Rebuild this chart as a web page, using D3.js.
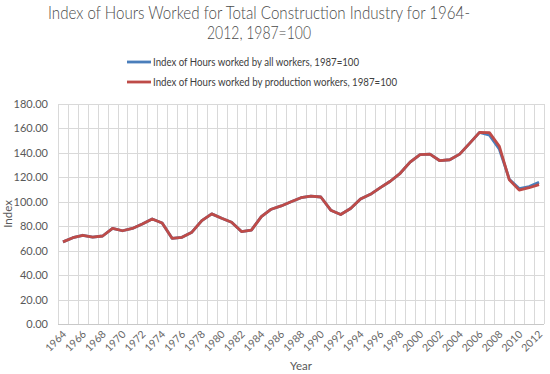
<!DOCTYPE html>
<html>
<head>
<meta charset="utf-8">
<script src="https://cdn.jsdelivr.net/npm/d3@7"></script>
<style>
	body { margin: 0; background: #fff; }
	text { font-family: Lato, "Open Sans", sans-serif; }
</style>
</head>
<body>
<div id="chart"></div>
<script>
// data
let years = d3.range(1964, 2013);
let allWorkers = [67.2, 70.6, 72.6, 71.1, 72.0, 78.3, 76.3, 78.2, 81.8, 85.9,
	82.6, 70.1, 70.9, 75.1, 84.6, 90.1, 86.5, 83.2, 75.6, 76.8,
	87.8, 93.9, 96.6, 100.0, 103.3, 104.7, 103.9, 93.1, 89.6, 94.5,
	102.2, 106.1, 111.6, 116.8, 123.3, 132.4, 138.6, 139.0, 133.6, 134.4,
	139.0, 147.8, 156.8, 154.5, 143.0, 118.5, 110.8, 112.5, 116.0];
let productionWorkers = [67.2, 70.6, 72.6, 71.1, 72.0, 78.3, 76.3, 78.2, 81.8, 85.9,
	82.6, 70.1, 70.9, 75.1, 84.6, 90.1, 86.5, 83.2, 75.6, 76.8,
	87.8, 93.9, 96.6, 100.0, 103.3, 104.7, 103.9, 93.1, 89.6, 94.5,
	102.2, 106.1, 111.6, 116.8, 123.3, 132.4, 138.6, 139.0, 133.6, 134.4,
	139.0, 147.8, 156.8, 156.6, 145.3, 118.0, 109.6, 111.5, 114.0];
let seriesNames = ["Index of Hours worked by all workers, 1987=100",
	"Index of Hours worked by production workers, 1987=100"];
let yTicks = [0, 20, 40, 60, 80, 100, 120, 140, 160, 180];
let xTickYears = years.filter(d => d % 2 === 0);
let titleLines = ["Index of Hours Worked for Total Construction Industry for 1964-",
	"2012, 1987=100"];

let width = 550, height = 374;
let margin = {top: 104, left: 58, right: 6, bottom: 50};
let colors = ["#4a7ebb", "#be4b48"];

let svg = d3.select("#chart").append("svg")
	.attr("width", width)
	.attr("height", height);

// squeeze a text to a given width (the reference font is narrower than ours)
function fitWidth(sel, target) {
	sel.each(function() {
		let w = this.getComputedTextLength();
		if (w > target) d3.select(this).attr("textLength", target).attr("lengthAdjust", "spacingAndGlyphs");
	});
}

let x = d3.scaleBand()
	.domain(years)
	.range([margin.left, width - margin.right]);
let y = d3.scaleLinear()
	.domain([0, 180])
	.range([height - margin.bottom, margin.top]);
let cx = d => x(d) + x.bandwidth() / 2;

// gridlines
let grid = svg.append("g").attr("stroke", "#d9d9d9").attr("stroke-width", 1);
grid.selectAll(".hg").data(yTicks.slice(1)).enter().append("line")
	.attr("x1", x.range()[0]).attr("x2", x.range()[1])
	.attr("y1", d => Math.round(y(d)) + 0.5).attr("y2", d => Math.round(y(d)) + 0.5);
let vEdges = years.map(d => x(d)).concat([x.range()[1]]);
grid.selectAll(".vg").data(vEdges).enter().append("line")
	.attr("x1", d => Math.round(d) + 0.5).attr("x2", d => Math.round(d) + 0.5)
	.attr("y1", y(180)).attr("y2", y(0));
// x axis line
svg.append("line")
	.attr("x1", x.range()[0]).attr("x2", x.range()[1])
	.attr("y1", Math.round(y(0)) + 0.5).attr("y2", Math.round(y(0)) + 0.5)
	.attr("stroke", "#c8c8c8");

// y axis
let yAxis = d3.axisLeft(y).tickValues(yTicks).tickFormat(d3.format(".2f")).tickSize(0).tickPadding(10);
let yg = svg.append("g")
	.attr("transform", "translate(" + margin.left + ",0)")
	.call(yAxis);
yg.select(".domain").remove();
yg.selectAll("text").attr("fill", "#595959").style("font-size", "11px");

// x axis
let xAxis = d3.axisBottom(x).tickValues(xTickYears).tickSize(0);
let xg = svg.append("g")
	.attr("transform", "translate(0," + y(0) + ")")
	.call(xAxis);
xg.select(".domain").remove();
xg.selectAll("text")
	.attr("fill", "#666")
	.style("font-size", "10.5px")
	.attr("text-anchor", "end")
	.attr("dy", null)
	.attr("y", 0)
	.attr("transform", "translate(4,11) rotate(-45)");

// lines
let line = d3.line()
	.x((d, i) => cx(years[i]))
	.y(d => y(d));
svg.selectAll(".series").data([allWorkers, productionWorkers]).enter().append("path")
	.attr("class", "series")
	.attr("fill", "none")
	.attr("stroke", (d, i) => colors[i])
	.attr("stroke-width", 2.8)
	.attr("stroke-linejoin", "round")
	.attr("d", line);

// title
let title = svg.append("g").selectAll("text").data(titleLines).enter().append("text")
	.attr("x", 259)
	.attr("y", (d, i) => 19 + i * 20)
	.attr("text-anchor", "middle")
	.attr("fill", "#4a4a4a")
	.style("font-size", "17.5px")
	.style("font-weight", 300)
	.text(d => d);
fitWidth(title.filter((d, i) => i === 0), 422);
fitWidth(title.filter((d, i) => i === 1), 104);

// legend
let legend = svg.append("g").selectAll("g").data(seriesNames).enter().append("g")
	.attr("transform", (d, i) => "translate(127," + (62 + i * 20) + ")");
legend.append("line")
	.attr("x1", 0).attr("x2", 24)
	.attr("stroke", (d, i) => colors[i])
	.attr("stroke-width", 2.8);
let legendText = legend.append("text")
	.attr("x", 26)
	.attr("dy", "0.35em")
	.attr("fill", "#404040")
	.style("font-size", "11px")
	.text(d => d);
fitWidth(legendText.filter((d, i) => i === 0), 206);
fitWidth(legendText.filter((d, i) => i === 1), 244);

// axis titles
svg.append("text")
	.attr("transform", "translate(12," + y(90) + ") rotate(-90)")
	.attr("text-anchor", "middle")
	.attr("fill", "#595959")
	.style("font-size", "11.5px")
	.text("Index");
svg.append("text")
	.attr("x", 301)
	.attr("y", 370)
	.attr("text-anchor", "middle")
	.attr("fill", "#595959")
	.style("font-size", "11.5px")
	.text("Year");
</script>
</body>
</html>
